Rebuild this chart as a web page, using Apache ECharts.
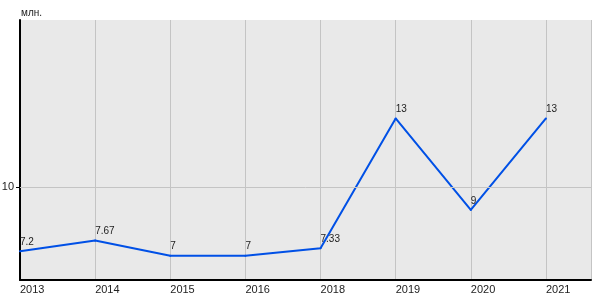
<!DOCTYPE html>
<html><head><meta charset="utf-8">
<script src="https://cdn.jsdelivr.net/npm/echarts@6/dist/echarts.min.js"></script>
<style>html,body{margin:0;padding:0;background:#fff}#c{width:600px;height:300px}</style>
</head><body><div id="c"></div>
<script>
const years = ['2013','2014','2015','2016','2018','2019','2020','2021'];
const values = [7.2, 7.67, 7, 7, 7.33, 13, 9, 13];
const yTicks = [10];
const unitLabel = 'млн.';

const chart = echarts.init(document.getElementById('c'), null, {renderer:'canvas'});
chart.setOption({
  animation:false,
  backgroundColor:'#ffffff',
  textStyle:{fontFamily:'Liberation Sans, Arial, sans-serif'},
  title:{text:unitLabel,left:16,top:3,textStyle:{fontSize:10,fontWeight:'normal',color:'#222'}},
  grid:{left:20,right:9,top:20,bottom:20,show:true,backgroundColor:'#e9e9e9',borderWidth:0,
    containLabel:false,outerBoundsMode:'none'},
  xAxis:{
    type:'value',min:0,max:7.6,interval:1,
    axisLine:{show:true,onZero:false,lineStyle:{color:'#000',width:2}},
    axisTick:{show:false},
    splitLine:{show:true,lineStyle:{color:'#c4c4c4',width:1}},
    axisLabel:{color:'#222',fontSize:11,align:'left',margin:4,showMaxLabel:false,
      formatter:v=> (Number.isInteger(v) && years[v]!==undefined) ? years[v] : ''}
  },
  yAxis:{
    type:'value',min:5.94,max:17.3,
    axisLine:{show:true,onZero:false,lineStyle:{color:'#000',width:2}},
    axisTick:{show:true,length:4,customValues:yTicks,lineStyle:{color:'#000'}},
    axisLabel:{color:'#222',fontSize:11,margin:6,customValues:yTicks,padding:[0,0,7,0]},
    splitLine:{show:false}
  },
  series:[{
    type:'line',
    data:years.map((y,i)=>[i,values[i]]),
    symbol:'circle',symbolSize:2,showSymbol:true,
    itemStyle:{color:'#0050e6'},
    lineStyle:{color:'#0050e6',width:2},
    label:{show:true,position:'top',align:'left',distance:3,fontSize:10,color:'#222',
      formatter:p=>String(p.value[1])},
    labelLayout:{hideOverlap:false},
    markLine:{silent:true,symbol:'none',label:{show:false},
      lineStyle:{color:'#c4c4c4',width:1,type:'solid'},
      data:yTicks.map(t=>({yAxis:t}))},
    z:3
  }]
});
</script></body></html>
